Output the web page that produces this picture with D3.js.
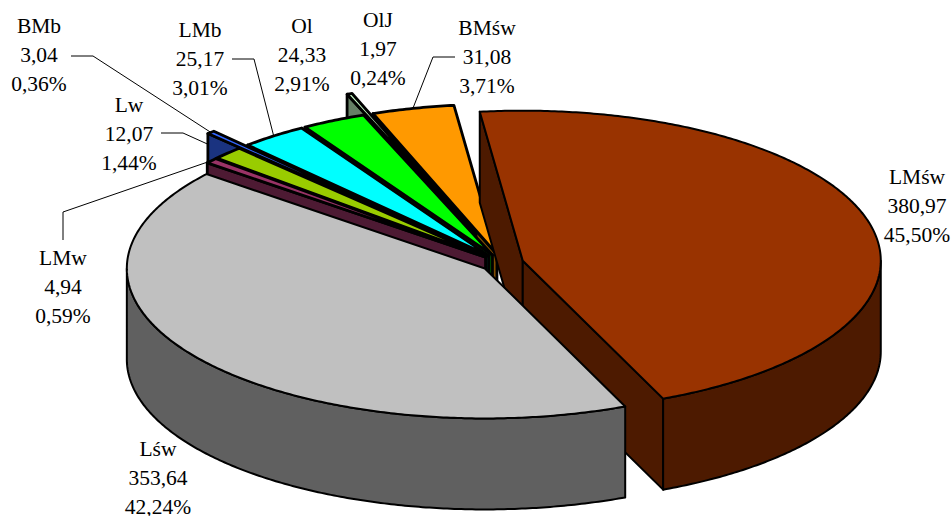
<!DOCTYPE html>
<html><head><meta charset="utf-8">
<style>html,body{margin:0;padding:0;background:#fff}svg{display:block}
text{font-family:"Liberation Serif","Times New Roman",serif;font-size:21.5px;fill:#000}</style>
<script src="https://cdn.jsdelivr.net/npm/d3@7"></script></head><body>
<script>
const categories=["LMśw","Lśw","LMw","Lw","BMb","LMb","Ol","OlJ","BMśw"];
const areas=[380.97,353.64,4.94,12.07,3.04,25.17,24.33,1.97,31.08];
const shares=["45,50%","42,24%","0,59%","1,44%","0,36%","3,01%","2,91%","0,24%","3,71%"];
const areaLabels=["380,97","353,64","4,94","12,07","3,04","25,17","24,33","1,97","31,08"];
const topColors=["#993300","#c0c0c0","#993366","#99cc00","#3366ff","#00ffff","#00ff00","#ccffcc","#ff9900"];
const sideColors=["#4d1a00","#606060","#4d1a33","#4d6600","#1a3380","#008080","#008000","#668066","#804d00"];
const explodeExtra=[0,0,0,0,47,0,0,52,0];
const labelPos=[[917,184],[158,456],[63,265],[129,112],[39,33],[200,37],[302,33],[378,27],[487,35]];
const leaderVia=[null,null,[[63,240],[63,212]],[[161,133],[183,133]],[[71,56],[93,56]],[[232,59],[254,59]],null,null,[[455,57],[433,57]]];

const width=952,height=516,rx=358,ry=150,depth=91,cx=502,cy=263,explode=21.5,startDeg=-6.9;
const svg=d3.select("body").append("svg").attr("width",width).attr("height",height);
const pieGen=d3.pie().sort(null).value(d=>d).startAngle(startDeg*Math.PI/180).endAngle((startDeg+360)*Math.PI/180);
const arcs=pieGen(areas);
const X=d3.scaleLinear().domain([-1,1]).range([-rx,rx]);
const Y=d3.scaleLinear().domain([-1,1]).range([-ry,ry]);
function apex(i){const a=arcs[i],m=(a.startAngle+a.endAngle)/2,e=(explode+explodeExtra[i])/rx;
  return [cx+X(Math.sin(m)*e),cy+Y(-Math.cos(m)*e)];}
function pt(i,t,dz=0){const [ax,ay]=apex(i);return [ax+X(Math.sin(t)),ay+Y(-Math.cos(t))+dz];}
function arcPts(i,t0,t1,dz=0){const n=Math.max(2,Math.ceil(Math.abs(t1-t0)/0.01));
  return d3.range(n+1).map(k=>pt(i,t0+(t1-t0)*k/n,dz));}
const line=d3.line();
const leaders=svg.append("g").attr("fill","none").attr("stroke","#000").attr("stroke-width",1);
arcs.forEach((a,i)=>{ if(!leaderVia[i])return;
  const m=(a.startAngle+a.endAngle)/2;
  leaders.append("path").attr("d",line(leaderVia[i].concat([pt(i,m)])));
});
const g=svg.append("g").attr("stroke","#000").attr("stroke-linejoin","round");
const order=[8,7,6,5,4,3,2,0,1];
order.forEach(i=>{
  const a=arcs[i],[ax,ay]=apex(i);
  const SW=(i<2)?2:2.8;
  const wall=(p)=>g.append("path").attr("d",line([[ax,ay],p,[p[0],p[1]+depth],[ax,ay+depth]])+"Z").attr("fill",sideColors[i]).attr("stroke-width",SW);
  if(Math.cos(a.startAngle-Math.PI/2)<0) wall(pt(i,a.startAngle));
  if(Math.cos(a.endAngle+Math.PI/2)<0) wall(pt(i,a.endAngle));
  const t0=Math.max(a.startAngle,Math.PI/2),t1=Math.min(a.endAngle,1.5*Math.PI);
  if(t1>t0){
    const top=arcPts(i,t0,t1),bot=arcPts(i,t1,t0,depth);
    g.append("path").attr("d",line(top.concat(bot))+"Z").attr("fill",sideColors[i]).attr("stroke-width",SW);
  }
  g.append("path").attr("d",line([[ax,ay]].concat(arcPts(i,a.startAngle,a.endAngle)))+"Z").attr("fill",topColors[i]).attr("stroke-width",SW);
});
const t=svg.append("g").attr("text-anchor","middle");
categories.forEach((c,i)=>{
  const [lx,ly]=labelPos[i];
  [c,areaLabels[i],shares[i]].forEach((s,k)=>{
    t.append("text").attr("x",lx).attr("y",ly+k*29).text(s);
  });
});
</script></body></html>
